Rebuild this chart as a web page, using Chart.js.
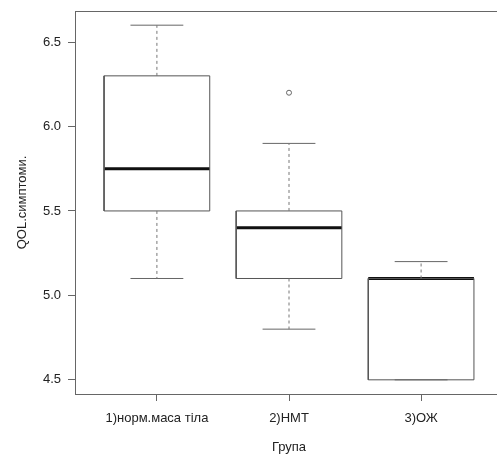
<!DOCTYPE html>
<html lang="uk">
<head>
    <meta charset="UTF-8">
    <title>QOL.симптоми. за групами</title>
    <style>
        html, body { margin: 0; padding: 0; background: #fff; overflow: hidden; }
        canvas { display: block; }
    </style>
</head>
<body>
    <!-- полотно трохи ширше за вікно: права рамка виходить за край -->
    <canvas id="chart" width="510" height="455"></canvas>

    <script src="https://cdn.jsdelivr.net/npm/chart.js"></script>
    <script>
        // Групи та п'ятичислові підсумки
        const groups = ['1)норм.маса тіла', '2)НМТ', '3)ОЖ'];
        const whiskerLow = [5.1, 4.8, 4.5];
        const q1 = [5.5, 5.1, 4.5];
        const median = [5.75, 5.4, 5.1];
        const q3 = [6.3, 5.5, 5.1];
        const whiskerHigh = [6.6, 5.9, 5.2];
        const outliers = [[], [6.2], []];
        const yTicks = [4.5, 5.0, 5.5, 6.0, 6.5];

        const BOX_HALF = 0.4;
        const CAP_HALF = 0.2;
        const gap = (x) => ({ x: x, y: null });

        const boxPts = [], medPts = [], whiskPts = [], capPts = [], outPts = [];
        groups.forEach((g, i) => {
            const x = i + 1;
            boxPts.push({ x: x - BOX_HALF, y: q1[i] }, { x: x + BOX_HALF, y: q1[i] },
                        { x: x + BOX_HALF, y: q3[i] }, { x: x - BOX_HALF, y: q3[i] },
                        { x: x - BOX_HALF, y: q1[i] }, gap(x));
            medPts.push({ x: x - BOX_HALF, y: median[i] }, { x: x + BOX_HALF, y: median[i] }, gap(x));
            whiskPts.push({ x: x, y: q3[i] }, { x: x, y: whiskerHigh[i] }, gap(x),
                          { x: x, y: q1[i] }, { x: x, y: whiskerLow[i] }, gap(x));
            capPts.push({ x: x - CAP_HALF, y: whiskerHigh[i] }, { x: x + CAP_HALF, y: whiskerHigh[i] }, gap(x),
                        { x: x - CAP_HALF, y: whiskerLow[i] }, { x: x + CAP_HALF, y: whiskerLow[i] }, gap(x));
            outliers[i].forEach(v => outPts.push({ x: x, y: v }));
        });

        // межі осей як у R: діапазон даних + 4%
        const allVals = whiskerLow.concat(whiskerHigh, outliers.flat());
        const yLo = Math.min(...allVals), yHi = Math.max(...allVals);
        const yPad = (yHi - yLo) * 0.04;
        const xPad = groups.length * 0.04;

        const lineSet = (data, color, width, dash) => ({
            data: data,
            showLine: true,
            spanGaps: false,
            borderColor: color,
            borderWidth: width,
            borderDash: dash || [],
            pointRadius: 0,
            fill: false
        });

        // верхня і права лінії рамки
        const framePlugin = {
            id: 'frame',
            afterDraw(chart) {
                const { ctx, chartArea: a } = chart;
                ctx.save();
                ctx.strokeStyle = '#666';
                ctx.lineWidth = 1;
                ctx.beginPath();
                ctx.moveTo(a.left, a.top + 0.5);
                ctx.lineTo(a.right, a.top + 0.5);
                ctx.lineTo(a.right, a.bottom);
                ctx.stroke();
                ctx.restore();
            }
        };

        const font = { family: "'Liberation Sans', Arial, sans-serif", size: 13 };

        new Chart(document.getElementById('chart'), {
            type: 'scatter',
            data: {
                datasets: [
                    lineSet(whiskPts, '#777', 1, [3, 3]),
                    lineSet(capPts, '#666', 1),
                    lineSet(boxPts, '#555', 1),
                    lineSet(medPts, '#111', 3),
                    {
                        data: outPts,
                        showLine: false,
                        pointStyle: 'circle',
                        pointRadius: 2.5,
                        pointBorderColor: '#666',
                        pointBackgroundColor: '#fff',
                        pointBorderWidth: 1
                    }
                ]
            },
            options: {
                responsive: false,
                animation: false,
                layout: { padding: { left: 0, top: 11, right: 7, bottom: 0 } },
                plugins: {
                    legend: { display: false },
                    tooltip: { enabled: false }
                },
                scales: {
                    x: {
                        type: 'linear',
                        min: 1 - 0.5 - xPad,
                        max: groups.length + 0.5 + xPad,
                        afterBuildTicks: (s) => { s.ticks = groups.map((g, i) => ({ value: i + 1 })); },
                        afterFit: (s) => { s.height = 61; s.paddingLeft = 0; s.paddingRight = 0; },
                        ticks: {
                            autoSkip: false,
                            maxRotation: 0,
                            padding: 10,
                            color: '#222',
                            font: font,
                            callback: (v) => groups[v - 1]
                        },
                        grid: { drawOnChartArea: false, drawTicks: true, tickLength: 7, color: '#666' },
                        border: { display: true, color: '#666' },
                        title: { display: true, text: 'Група', color: '#222', font: font, padding: { top: 0, bottom: 0 } }
                    },
                    y: {
                        min: yLo - yPad,
                        max: yHi + yPad,
                        afterBuildTicks: (s) => { s.ticks = yTicks.map(v => ({ value: v })); },
                        afterFit: (s) => { s.width = 75; s.paddingTop = 0; s.paddingBottom = 0; },
                        ticks: {
                            padding: 7,
                            color: '#222',
                            font: font,
                            callback: (v) => v.toFixed(1)
                        },
                        grid: { drawOnChartArea: false, drawTicks: true, tickLength: 7, color: '#666' },
                        border: { display: true, color: '#666' },
                        title: { display: true, text: 'QOL.симптоми.', color: '#222', font: font, padding: { top: 15, bottom: 15 } }
                    }
                }
            },
            plugins: [framePlugin]
        });
    </script>
</body>
</html>
